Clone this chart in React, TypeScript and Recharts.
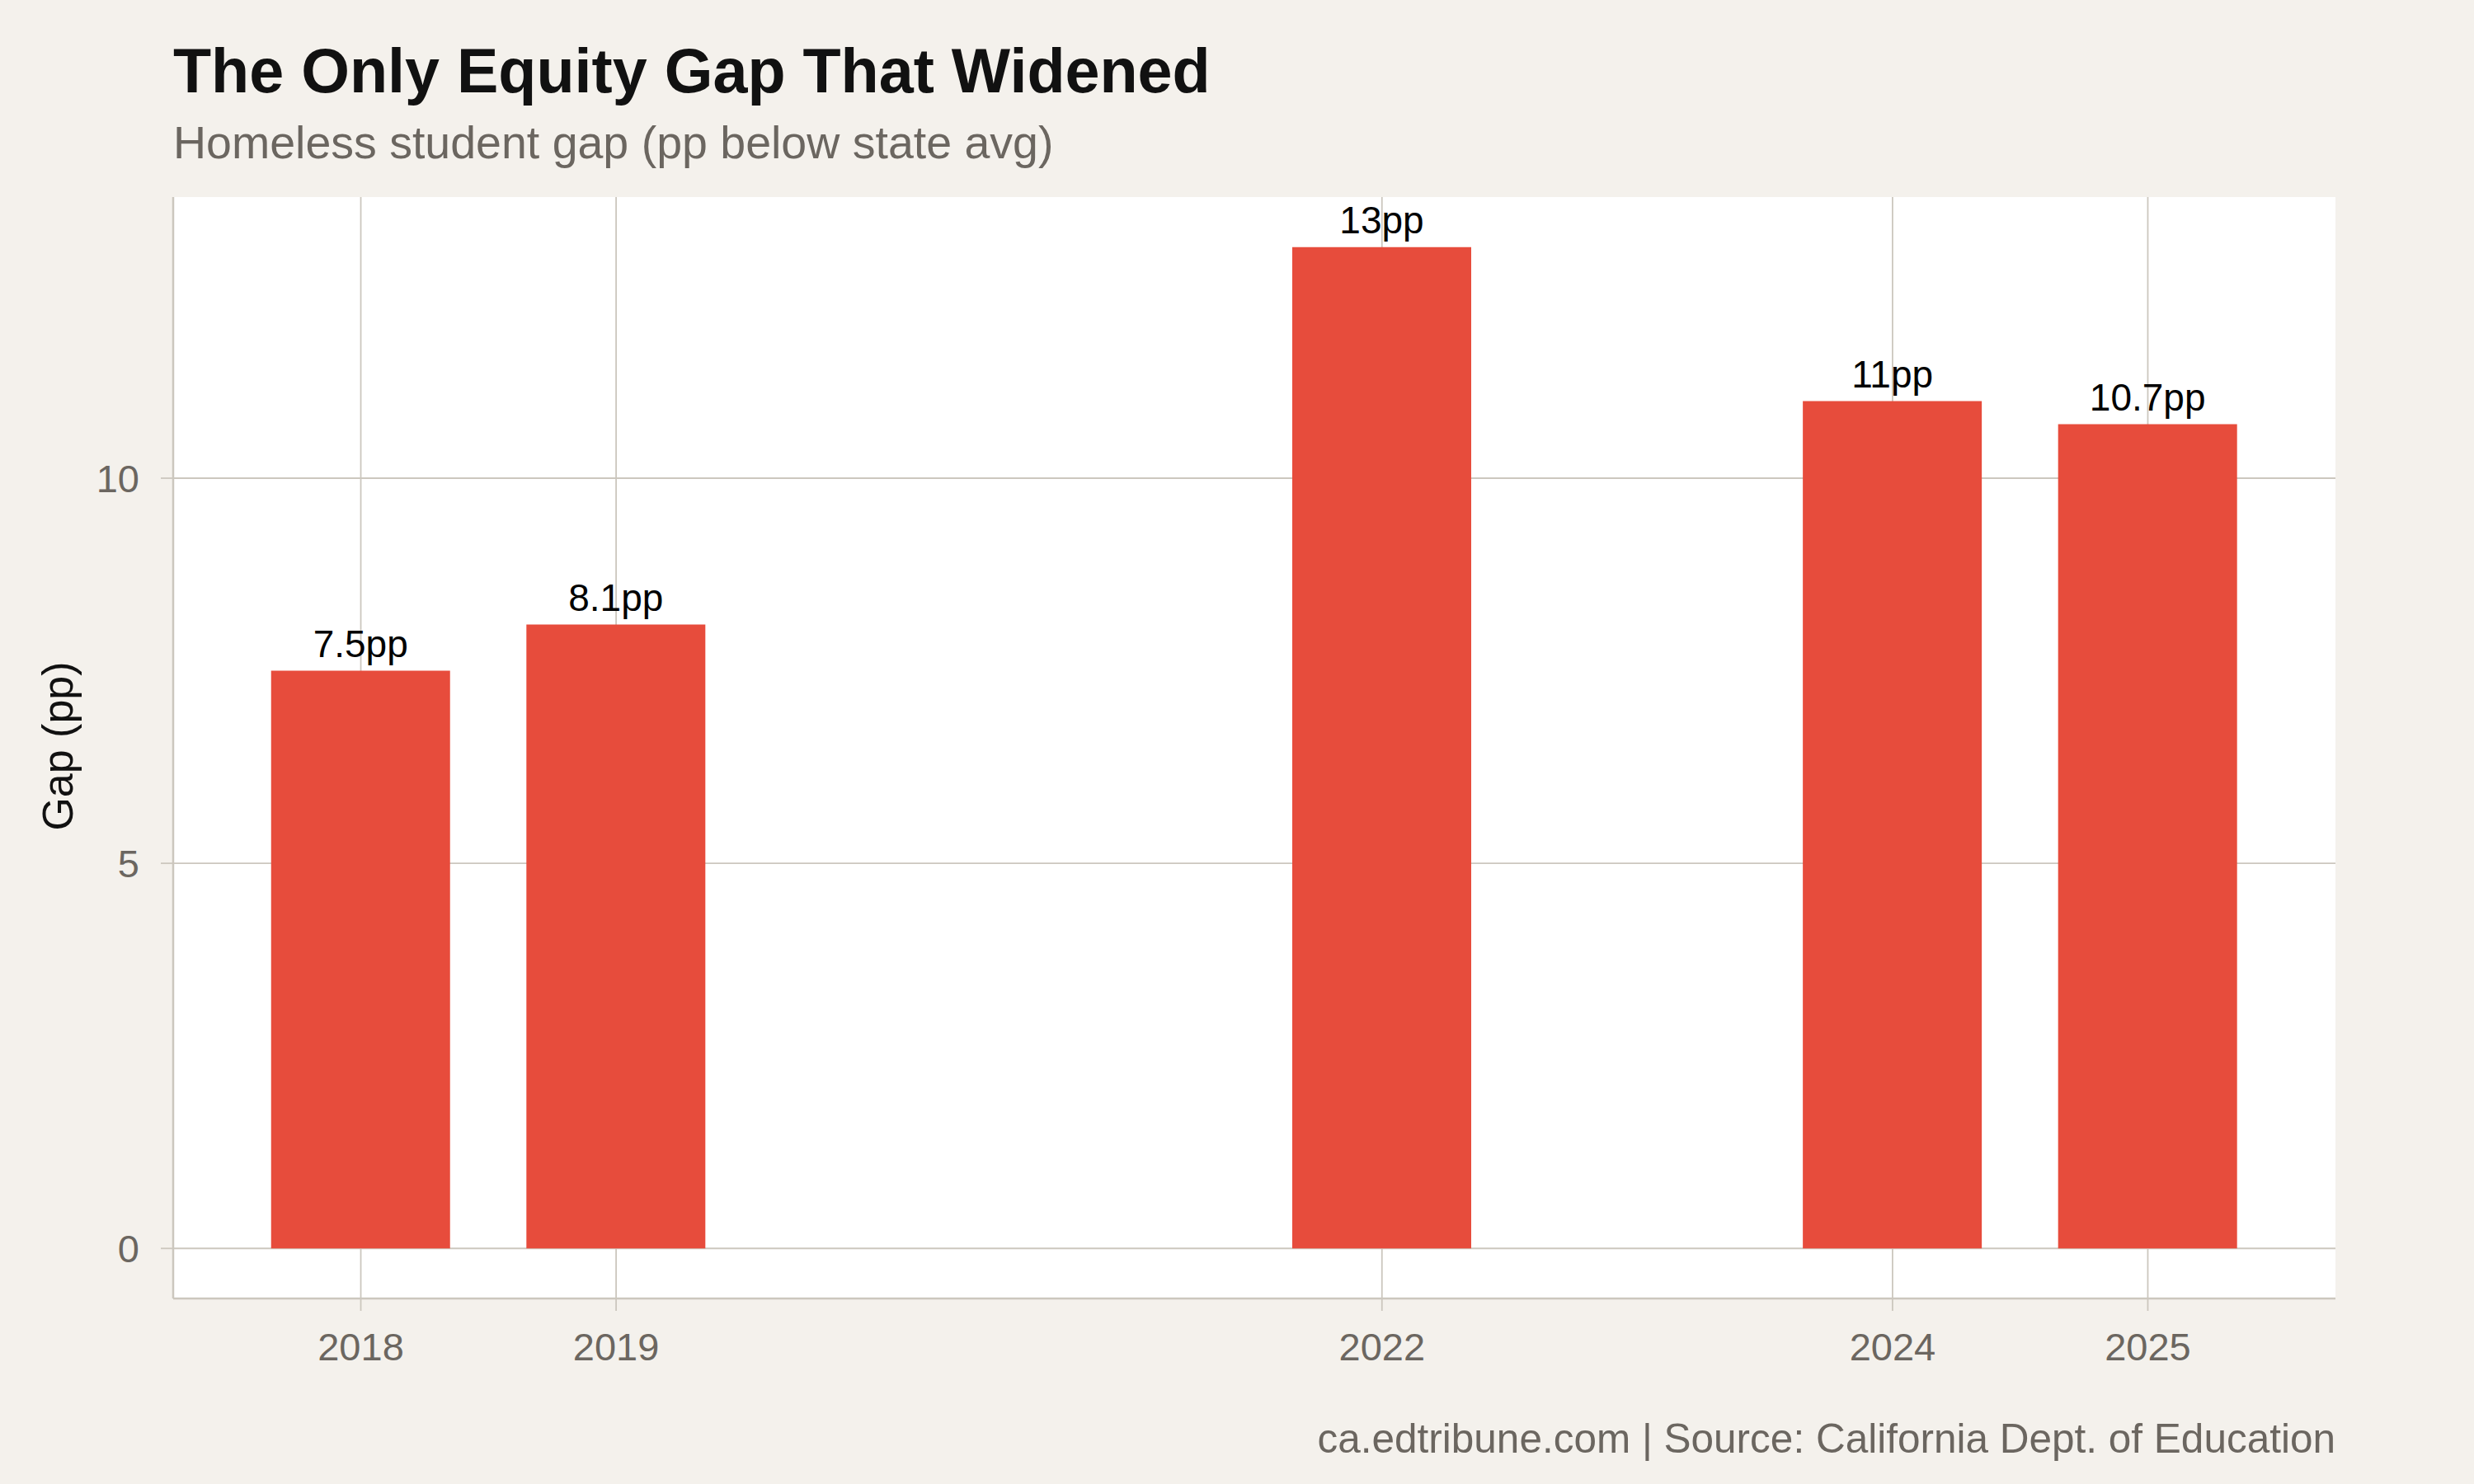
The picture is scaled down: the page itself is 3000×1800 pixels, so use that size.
import { BarChart, Bar, XAxis, YAxis, CartesianGrid, LabelList } from 'recharts';

const years = [2018, 2019, 2022, 2024, 2025];
const gaps = [7.5, 8.1, 13, 11, 10.7];
const xTicks = [2018, 2019, 2022, 2024, 2025];
const yTicks = [0, 5, 10];

const chartData = years.map((year, i) => ({ year, gap: gaps[i] }));

const FONT = '"Liberation Sans", Arial, Helvetica, sans-serif';
const BG = '#F4F1EC';
const MUTED = '#6B6660';
const LINE = '#CCC7BE';

export default function App() {
  return (
    <div style={{ position: 'absolute', left: 0, top: 0, width: 3000, height: 1800, background: BG, fontFamily: FONT }}>
      <BarChart
        width={3000}
        height={1800}
        data={chartData}
        margin={{ top: 239, right: 168, bottom: 125, left: 0 }}
      >
        {/* white panel, gridlines only at the tick values */}
        <CartesianGrid
          fill="#ffffff"
          stroke={LINE}
          strokeWidth={1.8}
          horizontalValues={yTicks}
          verticalValues={xTicks}
        />
        <XAxis
          dataKey="year"
          type="number"
          domain={[2017.265, 2025.735]}
          allowDataOverflow
          ticks={xTicks}
          height={100}
          tickSize={15}
          tickMargin={27}
          stroke={LINE}
          axisLine={{ stroke: LINE, strokeWidth: 2.5 }}
          tickLine={{ stroke: LINE, strokeWidth: 1.8 }}
          tick={{ fill: MUTED, fontSize: 47, fontFamily: FONT }}
        />
        <YAxis
          type="number"
          domain={[-0.65, 13.65]}
          allowDataOverflow
          ticks={yTicks}
          width={210}
          tickSize={15}
          tickMargin={26}
          stroke={LINE}
          axisLine={{ stroke: LINE, strokeWidth: 2.5 }}
          tickLine={{ stroke: LINE, strokeWidth: 1.8 }}
          tick={{ fill: MUTED, fontSize: 47, fontFamily: FONT }}
        />
        <Bar dataKey="gap" fill="#E74C3C" barSize={217} isAnimationActive={false}>
          <LabelList
            dataKey="gap"
            position="top"
            offset={17}
            formatter={(v: any) => `${v}pp`}
            style={{ fill: '#000', fontSize: 46, fontFamily: FONT }}
          />
        </Bar>
      </BarChart>
      <svg
        width={3000}
        height={1800}
        style={{ position: 'absolute', left: 0, top: 0, pointerEvents: 'none' }}
      >
        <text x={210} y={112} fontSize={75.5} fontWeight="bold" fill="#111" fontFamily={FONT}>
          The Only Equity Gap That Widened
        </text>
        <text x={210} y={192} fontSize={55.5} fill={MUTED} fontFamily={FONT}>
          Homeless student gap (pp below state avg)
        </text>
        <text
          x={88}
          y={905}
          fontSize={52}
          fill="#111"
          textAnchor="middle"
          transform="rotate(-90, 88, 905)"
          fontFamily={FONT}
        >
          Gap (pp)
        </text>
        <text x={2832} y={1762} fontSize={49.5} fill={MUTED} textAnchor="end" fontFamily={FONT}>
          ca.edtribune.com | Source: California Dept. of Education
        </text>
      </svg>
    </div>
  );
}
